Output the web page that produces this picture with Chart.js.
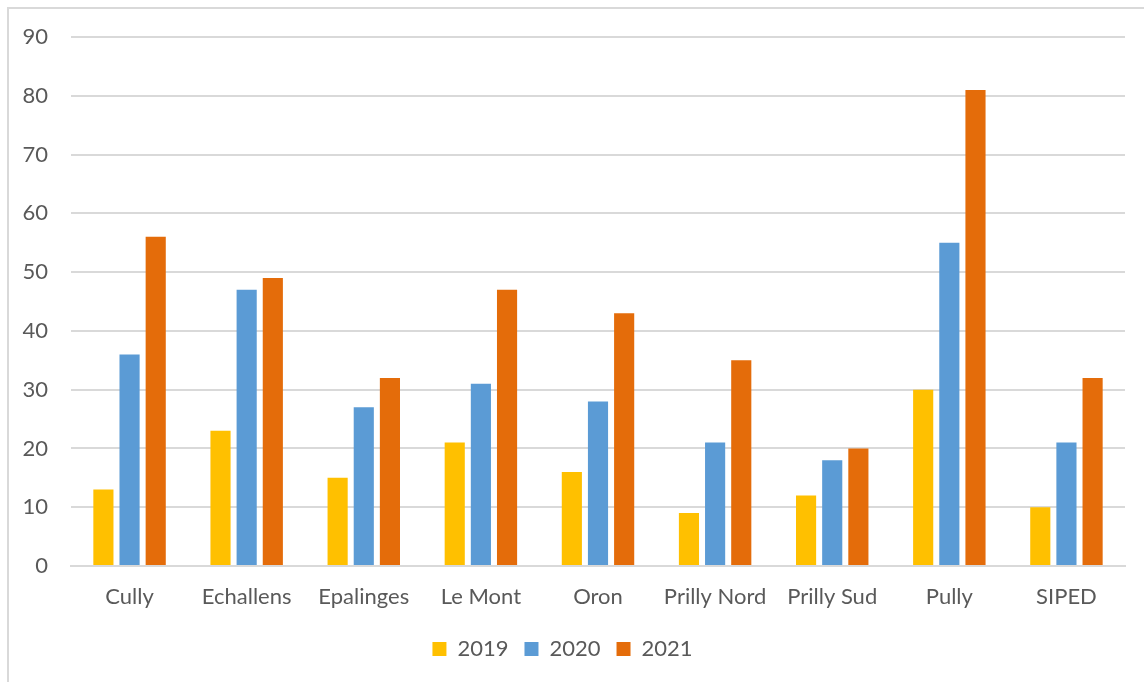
<!DOCTYPE html>
<html>
<head>
<meta charset="utf-8">
<script src="https://cdn.jsdelivr.net/npm/chart.js@4.4.1/dist/chart.umd.min.js"></script>
<style>
  body { margin: 0; background: #fff; }
  .frame { position: absolute; left: 7px; top: 7px; width: 1200px; height: 700px; border: 2px solid #d9d9d9; box-sizing: border-box; }
  .wrap { position: absolute; left: 0; top: 0; width: 1144px; height: 682px; }
</style>
</head>
<body>
<div class="frame"></div>
<div class="wrap"><canvas id="myChart"></canvas></div>
<script>
const sites = ["Cully", "Echallens", "Epalinges", "Le Mont", "Oron", "Prilly Nord", "Prilly Sud", "Pully", "SIPED"];
const years = ["2019", "2020", "2021"];
const values2019 = [13, 23, 15, 21, 16, 9, 12, 30, 10];
const values2020 = [36, 47, 27, 31, 28, 21, 18, 55, 21];
const values2021 = [56, 49, 32, 47, 43, 35, 20, 81, 32];
const yTicks = [0, 10, 20, 30, 40, 50, 60, 70, 80, 90];

const colors = ["#FFC000", "#5B9BD5", "#E46C0A"];
const textColor = "#595959";
const fontFamily = "Lato, 'Liberation Sans', sans-serif";

const data = {
  labels: sites,
  datasets: [values2019, values2020, values2021].map((vals, i) => ({
    label: years[i],
    data: vals,
    backgroundColor: colors[i],
    borderWidth: 0,
    categoryPercentage: 0.67,
    barPercentage: 0.77,
  })),
};

const config = {
  type: "bar",
  data: data,
  options: {
    responsive: true,
    maintainAspectRatio: false,
    animation: false,
    layout: { padding: { left: 0, right: 19, top: 37, bottom: 12 } },
    plugins: {
      tooltip: { enabled: false },
      legend: {
        position: "bottom",
        labels: {
          boxWidth: 14,
          boxHeight: 14,
          padding: 16,
          color: textColor,
          font: { family: fontFamily, size: 22 },
        },
      },
    },
    scales: {
      x: {
        grid: { display: false, drawTicks: false },
        border: { display: true, color: "#d9d9d9", width: 2 },
        ticks: { color: textColor, padding: 18, font: { family: fontFamily, size: 22 } },
        afterFit: (scale) => { scale.height = 56; },
      },
      y: {
        min: 0,
        max: 90,
        afterBuildTicks: (scale) => { scale.ticks = yTicks.map((v) => ({ value: v })); },
        grid: { color: "#d9d9d9", lineWidth: 2, drawTicks: false },
        border: { display: false },
        ticks: { color: textColor, padding: 23, font: { family: fontFamily, size: 22 } },
        afterFit: (scale) => { scale.width = 71; },
      },
    },
  },
};

new Chart(document.getElementById("myChart"), config);
</script>
</body>
</html>
